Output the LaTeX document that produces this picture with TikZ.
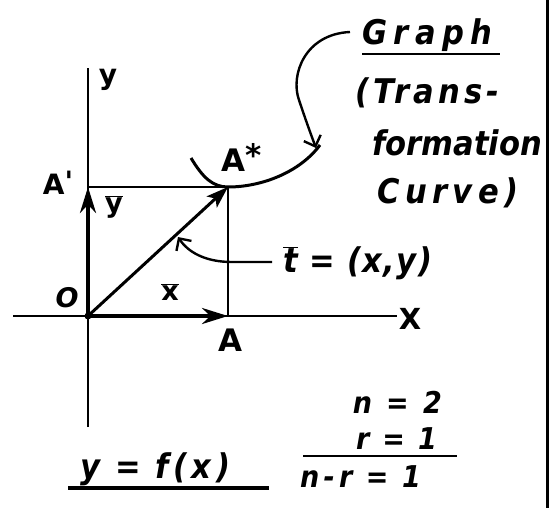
\documentclass[tikz,border=0pt]{standalone}
\usepackage{fontspec}
\setmainfont{DejaVu Sans}
\newfontfamily\handfont{DejaVu Sans Condensed}
\usetikzlibrary{arrows.meta}
\newcommand\ovl[1]{$\overline{\mbox{#1}}$}
\newcommand\fs[1]{\fontsize{#1}{#1}\selectfont}
\newcommand\ls[1]{\addfontfeature{LetterSpace=#1}}
\begin{document}
\begin{tikzpicture}[x=1pt,y=-1pt,
  lbl/.style={inner sep=0pt, font=\fs{32}\bfseries},
  hand/.style={inner sep=0pt, anchor=base west, font=\fs{34}\handfont\bfseries\itshape},
  axis/.style={line width=2.2pt},
  thinline/.style={line width=1.8pt},
  vec/.style={line width=4pt, -{Stealth[length=26pt,width=16pt]}},
  tvec/.style={line width=3pt, -{Stealth[length=22pt,width=15pt,inset=5pt]}},
  lead/.style={line width=2.4pt, -{Straight Barb[length=9pt,width=18pt]}}]
\useasboundingbox (0,0) rectangle (551,511);
% points
\coordinate (O) at (88,316);
\coordinate (A) at (228,316);
\coordinate (Ap) at (88,187);
\coordinate (As) at (228,187);
\coordinate (xl) at (13,316);
\coordinate (xr) at (397,316);
\coordinate (yt) at (88,68);
\coordinate (yb) at (88,427);
% frame line at right
\coordinate (f1) at (547,0);
\coordinate (f2) at (547,508);
\draw[line width=3pt] (f1) -- (f2);
% axes
\draw[axis] (xl) -- (xr);
\draw[axis] (yb) -- (yt);
% projection lines
\draw[thinline] (Ap) -- (As);
\draw[thinline] (A) -- (As);
% vectors
\draw[vec] (O) -- (A);
\draw[vec] (O) -- (Ap);
\draw[tvec] (O) -- (As);
\fill (O) circle (3.5pt);
% transformation curve
\coordinate (c1) at (191,158);
\coordinate (c2) at (320,145);
\coordinate (ctip) at (316,148);
\draw[line width=3pt] (c1) .. controls (203,178) and (213,187) .. (As) .. controls (262,187) and (300,172) .. (c2);
% labels
\node[lbl, font=\fs{28}\bfseries] (ylab) at (108,80) {y};
\node[lbl, font=\fs{28}\bfseries] (Aplab) at (58,183) {A\raisebox{3pt}{\textquotesingle}};
\node[lbl, font=\fs{27}\bfseries\itshape] (Olab) at (67,298) {O};
\node[lbl, font=\fs{27}\bfseries] (ybar) at (114,207) {\ovl{y}};
\node[lbl, font=\fs{27}\bfseries] (xbar) at (170,292) {\ovl{x}};
\node[lbl, font=\fs{31}\bfseries] (Alab) at (230,340) {A};
\node[lbl, font=\fs{31}\bfseries] (Aslab) at (242,157) {A\raisebox{5pt}{*}};
\node[lbl, font=\fs{29}\bfseries] (Xlab) at (410,319) {X};
% t label and leader
\node[hand] (tlab) at (283,272) {\ls{4}\ovl{t} = (x,y)};
\coordinate (tl1) at (272,262);
\coordinate (tl2) at (232,262);
\coordinate (ttip) at (178,237);
\draw[lead] (tl1) -- (tl2) .. controls (205,262) and (188,252) .. (ttip);
% Graph text
\node[hand] (g1) at (362,45) {\ls{19}Graph};
\coordinate (u1) at (362,54);
\coordinate (u2) at (500,54);
\draw[line width=2.8pt] (u1) -- (u2);
\node[hand] (g2) at (355,103) {\ls{12}(Trans-};
\node[hand] (g3) at (372,155) {formation};
\node[hand] (g4) at (377,203) {\ls{16}Curve)};
\coordinate (gl1) at (350,32);
\draw[lead] (gl1) .. controls (305,34) and (290,75) .. (299,100) .. controls (305,118) and (310,132) .. (ctip);
% y = f(x)
\node[hand] (fx) at (80,478) {\ls{13}y = f(x)};
\coordinate (fu1) at (68,488);
\coordinate (fu2) at (269,488);
\draw[line width=4pt] (fu1) -- (fu2);
% n, r
\node[hand, anchor=base east, font=\fs{30}\handfont\bfseries\itshape] (n2) at (442,413) {\ls{16}n = 2};
\node[hand, anchor=base east, font=\fs{30}\handfont\bfseries\itshape] (r1) at (437,449) {\ls{12}r = 1};
\coordinate (fr1) at (303,456);
\coordinate (fr2) at (457,456);
\draw[line width=2pt] (fr1) -- (fr2);
\node[hand, font=\fs{30}\handfont\bfseries\itshape] (nr) at (300,487) {\ls{14}n-r = 1};
\end{tikzpicture}
\end{document}
